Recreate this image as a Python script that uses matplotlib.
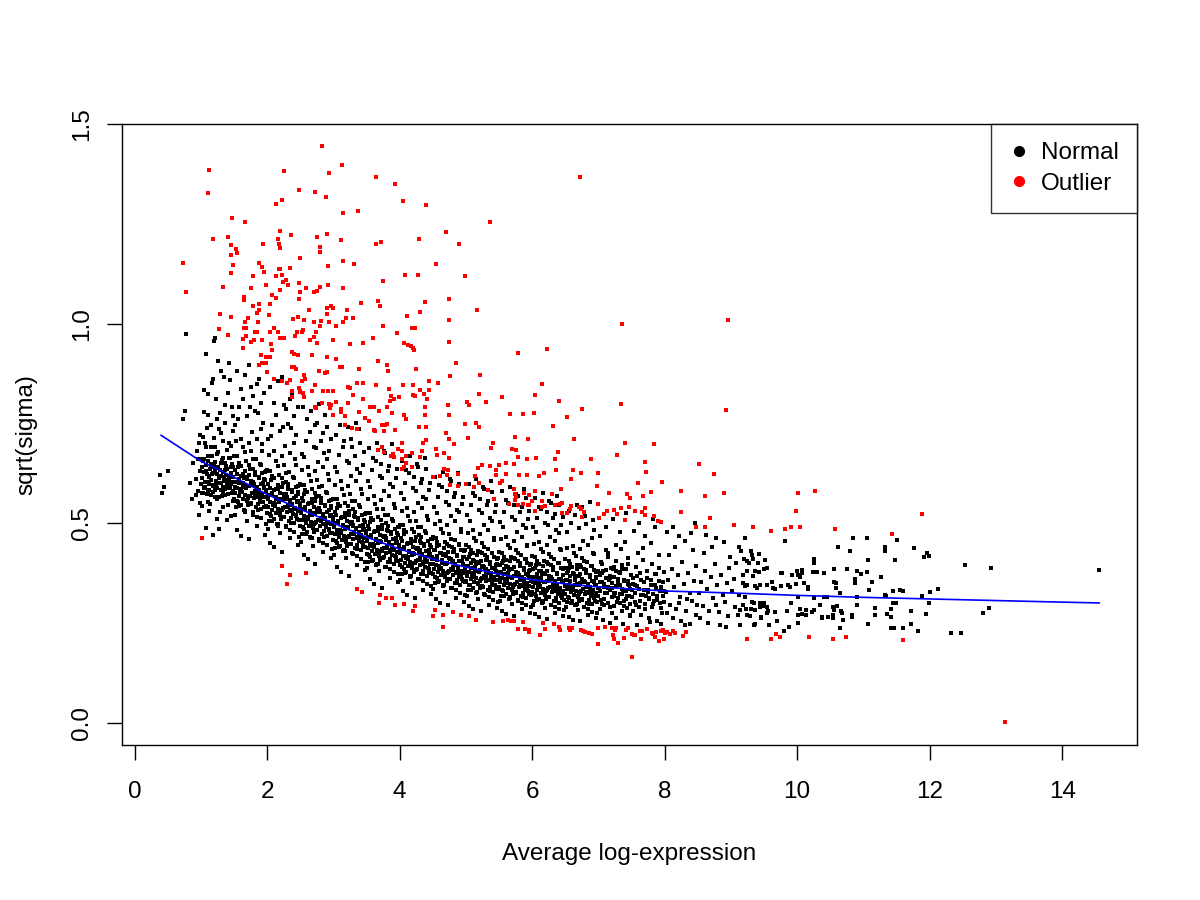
import numpy as np
import matplotlib.pyplot as plt
from matplotlib.lines import Line2D

plt.rcParams['font.family'] = ['Liberation Sans', 'DejaVu Sans']

# points: x = average log-expression * 100, y = sqrt(sigma) * 1000
normal_xy_left = [
    38,620, 42,576, 51,630, 45,590, 73,760, 76,780, 77,974, 84,600, 88,650, 86,560,
    92,610, 95,660, 96,580, 97,700, 98,550, 99,630, 94,680, 97,520, 99,720, 93,570,
    101,612, 103,655, 104,588, 106,702, 107,631, 109,574, 111,668, 112,603, 114,547, 115,690,
    117,622, 118,579, 120,713, 121,641, 123,596, 125,560, 126,678, 128,615, 129,528, 131,650,
    133,590, 134,705, 136,632, 137,571, 139,684, 141,545, 142,619, 144,662, 145,598, 147,575, 148,640,
    102,575, 105,628, 108,690, 110,552, 113,617, 116,745, 119,596, 122,652, 124,511, 127,600,
    130,726, 132,567, 135,615, 138,643, 140,508, 143,587, 146,692, 149,556,
    101,542, 104,778, 107,489, 110,823, 113,530, 116,641, 119,862, 122,566, 125,760, 128,486,
    131,880, 134,541, 137,795, 140,609, 143,902, 146,518, 149,731,
    102,660, 106,603, 109,738, 112,583, 115,648, 118,470, 121,690, 124,622, 127,735, 130,584,
    133,663, 136,752, 139,596, 142,700, 145,640, 148,768,
    103,716, 105,834, 111,770, 117,850, 123,812, 129,776, 135,866, 141,825, 147,790, 108,925,
    126,905, 144,858, 122,964, 120,957,
    151,590, 152,632, 154,555, 155,668, 157,601, 158,542, 160,643, 162,578, 163,690, 165,612,
    166,527, 168,655, 170,592, 171,563, 173,620, 175,681, 176,548, 178,604, 179,636, 181,571,
    183,660, 184,590, 186,532, 187,615, 189,648, 191,566, 192,697, 194,600, 195,541, 197,628, 199,584,
    151,520, 153,603, 156,640, 159,577, 161,712, 164,590, 167,616, 169,506, 172,645, 174,567,
    177,728, 180,598, 182,629, 185,515, 188,575, 190,735, 193,552, 196,611, 198,498,
    152,745, 155,482, 158,790, 161,468, 164,812, 167,530, 170,768, 173,459, 176,842, 179,520,
    182,781, 185,494, 188,860, 191,512, 194,752, 197,471,
    150,668, 153,706, 157,650, 160,585, 163,622, 166,678, 169,558, 172,700, 175,605, 178,660,
    181,620, 184,712, 187,566, 190,645, 193,680, 196,590, 199,630,
    154,880, 160,835, 166,870, 172,895, 178,818, 184,848, 190,800, 196,825, 156,760, 174,790, 186,775,
    201,560, 202,598, 204,522, 205,631, 207,570, 208,505, 210,612, 212,548, 213,655, 215,585,
    216,494, 218,620, 220,560, 221,532, 223,590, 225,645, 226,516, 228,572, 229,603, 231,540,
    233,628, 234,558, 236,500, 237,582, 239,615, 241,535, 242,660, 244,568, 245,510, 247,594, 249,550,
    201,485, 203,570, 206,607, 209,545, 211,680, 214,560, 217,585, 219,476, 222,612, 224,537,
    227,692, 230,566, 232,598, 235,483, 238,545, 240,700, 243,520, 246,578, 248,466,
    202,712, 205,451, 208,745, 211,440, 214,770, 217,498, 220,730, 223,428, 226,795, 229,490,
    232,748, 235,462, 238,820, 241,478, 244,722, 247,445,
    200,633, 203,670, 207,618, 210,550, 213,585, 216,642, 219,525, 222,668, 225,572, 228,625,
    231,588, 234,676, 237,533, 240,612, 243,645, 246,556, 249,598,
    204,840, 210,802, 216,855, 222,865, 228,785, 234,812, 240,768, 246,790, 206,718, 224,742, 236,738,
    251,525, 252,562, 254,490, 255,596, 257,535, 258,472, 260,578, 262,515, 263,620, 265,550,
    266,462, 268,585, 270,525, 271,498, 273,555, 275,608, 276,482, 278,538, 279,568, 281,506,
    283,592, 284,522, 286,466, 287,546, 289,578, 291,500, 292,622, 294,532, 295,476, 297,558, 299,515,
    251,452, 253,535, 256,572, 259,510, 261,640, 264,525, 267,550, 269,443, 272,576, 274,502,
    277,652, 280,530, 282,562, 285,450, 288,510, 290,660, 293,485, 296,542, 298,435,
    252,672, 255,420, 258,705, 261,410, 264,728, 267,462, 270,690, 273,398, 276,752, 279,455,
    282,705, 285,428, 288,770, 291,444, 294,680, 297,412,
    250,596, 253,632, 257,582, 260,515, 263,550, 266,606, 269,492, 272,630, 275,536, 278,590,
    281,552, 284,640, 287,498, 290,575, 293,608, 296,520, 299,560,
    254,790, 260,760, 266,780, 272,745, 278,798, 284,725, 290,740, 296,712, 256,665, 274,688, 286,675,
]

normal_xy_mid = [
    301,490, 302,528, 304,455, 305,560, 307,500, 308,440, 310,543, 312,480, 313,585, 315,515,
    316,432, 318,550, 320,490, 321,465, 323,520, 325,572, 326,448, 328,502, 329,535, 331,472,
    333,556, 334,488, 336,436, 337,512, 339,545, 341,466, 342,585, 344,496, 345,442, 347,524, 349,480,
    301,420, 303,500, 306,538, 309,476, 311,605, 314,492, 317,515, 319,412, 322,542, 324,468,
    327,618, 330,496, 332,528, 335,418, 338,476, 340,625, 343,452, 346,508, 348,402,
    302,640, 305,390, 308,670, 311,378, 314,690, 317,430, 320,655, 323,368, 326,712, 329,422,
    332,668, 335,395, 338,735, 341,410, 344,645, 347,382,
    300,560, 303,595, 307,548, 310,482, 313,515, 316,570, 319,458, 322,594, 325,502, 328,555,
    331,518, 334,605, 337,465, 340,540, 343,572, 346,486, 349,525,
    304,720, 310,745, 316,705, 322,740, 328,690, 334,752, 340,700, 346,678, 306,628, 324,650, 336,635,
    351,455, 352,492, 354,420, 355,525, 357,465, 358,406, 360,508, 362,446, 363,548, 365,480,
    366,398, 368,515, 370,455, 371,430, 373,485, 375,536, 376,414, 378,468, 379,500, 381,438,
    383,520, 384,452, 386,402, 387,478, 389,510, 391,432, 392,548, 394,462, 395,408, 397,490, 399,446,
    351,388, 353,466, 356,502, 359,442, 361,568, 364,458, 367,480, 369,380, 372,508, 374,434,
    377,580, 380,462, 382,494, 385,385, 388,442, 390,590, 393,418, 396,474, 398,372,
    352,605, 355,360, 358,632, 361,348, 364,655, 367,398, 370,618, 373,338, 376,680, 379,390,
    382,630, 385,362, 388,698, 391,378, 394,612, 397,352,
    350,525, 353,560, 357,512, 360,448, 363,480, 366,535, 369,424, 372,558, 375,468, 378,520,
    381,484, 384,568, 387,432, 390,505, 393,538, 396,452, 399,490,
    354,688, 360,662, 366,700, 372,648, 378,675, 384,642, 390,668, 396,635, 356,590, 374,612, 386,598,
    401,425, 402,462, 404,390, 405,495, 407,435, 408,376, 410,478, 412,416, 413,518, 415,450,
    416,368, 418,485, 420,425, 421,400, 423,455, 425,506, 426,384, 428,438, 429,470, 431,408,
    433,490, 434,422, 436,372, 437,448, 439,480, 441,402, 442,518, 444,432, 445,378, 447,460, 449,416,
    401,358, 403,436, 406,472, 409,412, 411,538, 414,428, 417,450, 419,350, 422,478, 424,404,
    427,550, 430,432, 432,464, 435,356, 438,412, 440,560, 443,388, 446,444, 448,342,
    402,575, 405,330, 408,600, 411,320, 414,625, 417,368, 420,588, 423,312, 426,648, 429,360,
    432,600, 435,332, 438,662, 441,348, 444,582, 447,322,
    400,495, 403,530, 407,482, 410,418, 413,450, 416,505, 419,394, 422,528, 425,438, 428,490,
    431,454, 434,538, 437,402, 440,475, 443,508, 446,422, 449,460,
    404,655, 410,632, 416,668, 422,615, 428,640, 434,610, 440,635, 446,600, 406,560, 424,580, 436,566,
    451,398, 452,432, 454,365, 455,462, 457,408, 458,352, 460,445, 462,388, 463,486, 465,420,
    466,344, 468,452, 470,398, 471,375, 473,428, 475,472, 476,360, 478,410, 479,440, 481,382,
    483,458, 484,396, 486,350, 487,418, 489,448, 491,378, 492,485, 494,405, 495,355, 497,430, 499,390,
    451,335, 453,410, 456,442, 459,386, 461,505, 464,400, 467,422, 469,328, 472,448, 474,380,
    477,518, 480,405, 482,436, 485,333, 488,388, 490,528, 493,365, 496,415, 498,320,
    452,540, 455,310, 458,565, 461,300, 464,590, 467,345, 470,552, 473,295, 476,610, 479,338,
    482,565, 485,312, 488,625, 491,326, 494,548, 497,302,
    450,465, 453,498, 457,452, 460,392, 463,425, 466,475, 469,370, 472,495, 475,412, 478,460,
    481,428, 484,505, 487,378, 490,445, 493,478, 496,398, 499,432,
    454,615, 460,595, 466,628, 472,580, 478,605, 484,575, 490,598, 496,565, 456,525, 474,545, 486,532,
    501,376, 502,410, 504,345, 505,440, 507,388, 508,332, 510,425, 512,366, 513,462, 515,398,
    516,326, 518,430, 520,378, 521,355, 523,406, 525,450, 526,340, 528,390, 529,420, 531,362,
    533,436, 534,376, 536,330, 537,398, 539,426, 541,358, 542,462, 544,385, 545,336, 547,410, 549,370,
    501,318, 503,392, 506,422, 509,366, 511,482, 514,380, 517,402, 519,310, 522,428, 524,362,
    527,495, 530,385, 532,416, 535,314, 538,368, 540,505, 543,346, 546,395, 548,302,
    502,520, 505,292, 508,545, 511,285, 514,568, 517,328, 520,532, 523,280, 526,590, 529,320,
    532,545, 535,296, 538,605, 541,308, 544,528, 547,288,
    500,445, 503,476, 507,432, 510,372, 513,405, 516,455, 519,350, 522,472, 525,392, 528,440,
    531,408, 534,482, 537,358, 540,425, 543,458, 546,378, 549,412,
    504,598, 510,575, 516,610, 522,560, 528,585, 534,555, 540,578, 546,545, 506,505, 524,525, 536,512,
    551,362, 552,395, 554,332, 555,425, 557,372, 558,318, 560,408, 562,350, 563,446, 565,382,
    566,312, 568,414, 570,362, 571,340, 573,390, 575,432, 576,326, 578,374, 579,404, 581,346,
    583,420, 584,360, 586,316, 587,382, 589,410, 591,342, 592,445, 594,370, 595,322, 597,395, 599,355,
    551,305, 553,376, 556,406, 559,350, 561,465, 564,365, 567,386, 569,297, 572,412, 574,348,
    577,478, 580,370, 582,400, 585,300, 588,354, 590,488, 593,332, 596,380, 598,290,
    552,502, 555,280, 558,528, 561,272, 564,550, 567,315, 570,515, 573,268, 576,572, 579,306,
    582,528, 585,284, 588,585, 591,295, 594,510, 597,276,
    550,428, 553,460, 557,416, 560,358, 563,390, 566,438, 569,336, 572,455, 575,378, 578,424,
    581,392, 584,465, 587,344, 590,410, 593,442, 596,364, 599,398,
    554,580, 560,558, 566,590, 572,545, 578,568, 584,540, 590,562, 596,530, 556,490, 574,508, 586,495,
]

normal_xy_right = [
    601,352, 602,384, 604,322, 605,414, 607,362, 608,308, 610,398, 612,340, 613,435, 615,372,
    616,302, 618,404, 620,352, 621,330, 623,380, 625,422, 626,316, 628,364, 629,394, 631,336,
    633,410, 634,350, 636,306, 637,372, 639,400, 641,332, 642,434, 644,360, 645,312, 647,385, 649,345,
    601,296, 603,366, 606,396, 609,340, 611,452, 614,355, 617,376, 619,288, 622,402, 624,338,
    627,465, 630,360, 632,390, 635,290, 638,344, 640,475, 643,322, 646,370, 648,282,
    602,490, 605,272, 608,512, 611,265, 614,535, 617,305, 620,500, 623,260, 626,555, 629,296,
    632,512, 635,276, 638,568, 641,285, 644,495, 647,268,
    600,418, 603,448, 607,406, 610,348, 613,380, 616,428, 619,326, 622,444, 625,368, 628,414,
    631,382, 634,455, 637,334, 640,400, 643,432, 646,354, 649,388,
    604,562, 610,540, 616,575, 622,528, 628,550, 634,522, 640,545, 646,515, 606,478, 624,495, 636,482,
    651,345, 652,376, 654,315, 655,405, 657,355, 658,300, 660,390, 662,332, 663,425, 665,365,
    666,295, 668,396, 670,345, 671,322, 673,372, 675,412, 676,308, 678,356, 679,386, 681,328,
    683,402, 684,342, 686,298, 687,364, 689,392, 691,325, 692,425, 694,352, 695,305, 697,378, 699,338,
    651,290, 653,358, 656,388, 659,332, 661,442, 664,346, 667,368, 669,282, 672,394, 674,330,
    677,455, 680,352, 682,382, 685,284, 688,336, 690,462, 693,315, 696,362, 698,276,
    652,478, 655,266, 658,500, 661,258, 664,520, 667,298, 670,488, 673,254, 676,540, 679,290,
    682,498, 685,270, 688,552, 691,278, 694,482, 697,262,
    650,410, 653,438, 657,398, 660,340, 663,372, 666,418, 669,318, 672,435, 675,360, 678,405,
    681,374, 684,445, 687,326, 690,392, 693,422, 696,346, 699,380,
    656,530, 668,545, 680,518, 692,508,
    701,338, 703,370, 704,308, 706,398, 708,348, 709,294, 711,382, 713,326, 714,415, 716,358,
    718,290, 719,388, 721,338, 723,318, 724,365, 726,404, 728,302, 729,350, 731,378, 733,322,
    735,395, 736,336, 738,292, 739,358, 741,384, 743,318, 744,412, 746,346, 748,298, 749,370,
    702,285, 705,352, 707,380, 710,326, 712,432, 715,340, 717,362, 720,276, 722,386, 725,324,
    727,445, 730,345, 732,374, 735,280, 737,330, 740,452, 742,310, 745,355, 747,270,
    702,468, 707,258, 712,490, 717,250, 722,510, 727,262, 732,478, 737,248, 742,525, 747,268,
    704,402, 714,425, 724,390, 734,436, 744,398,
    751,332, 753,362, 755,302, 757,390, 759,342, 761,290, 763,376, 765,320, 767,408, 769,352,
    771,286, 773,380, 775,332, 777,312, 779,358, 781,398, 783,298, 785,344, 787,372, 789,318,
    791,388, 793,330, 795,288, 797,352, 799,378,
    752,280, 756,346, 760,426, 764,270, 768,438, 772,318, 776,262, 780,450, 784,306, 788,256,
    792,420, 796,275, 799,302,
    754,480, 762,500, 770,468, 778,252, 786,490, 794,248, 758,244, 782,510,
    802,328, 805,358, 808,296, 811,385, 814,340, 817,285, 820,370, 823,316, 826,402, 829,348,
    832,280, 835,375, 838,326, 841,306, 844,356, 847,392, 849,296,
    803,276, 807,420, 812,262, 816,440, 821,300, 825,255, 830,455, 834,310, 839,248, 843,432, 848,270,
    804,478, 813,490, 822,468, 831,245, 840,475, 846,500,
    852,325, 855,352, 858,292, 861,380, 864,336, 867,280, 870,366, 873,312, 876,398, 879,344,
    882,278, 885,370, 888,320, 891,302, 894,350, 897,388,
    853,262, 859,425, 865,250, 871,440, 877,296, 883,245, 889,452, 895,268, 899,415,
    862,470, 878,462, 892,240,
    901,330, 904,360, 906,290, 908,400, 910,270, 912,440, 913,320,
]

# the densest part of the band, read bin by bin
normal_xy_core = [
    100,598, 101,641, 102,612, 103,575, 104,660, 105,628, 106,590, 107,645, 108,603, 109,622,
    110,580, 111,655, 112,615, 113,598, 114,636, 115,570, 116,608, 117,667, 118,625, 119,594,
    120,648, 121,583, 122,630, 123,606, 124,672, 125,589, 126,640, 127,612, 128,566, 129,633,
    130,600, 131,618, 132,657, 133,578, 134,628, 135,606, 136,585, 137,650, 138,620, 139,597,
    140,636, 141,572, 142,610, 143,662, 144,590, 145,625, 146,603, 147,648, 148,581, 149,615,
    150,560, 151,602, 152,575, 153,540, 154,622, 155,588, 156,553, 157,610, 158,568, 159,585,
    160,545, 161,618, 162,578, 163,560, 164,600, 165,532, 166,570, 167,630, 168,588, 169,556,
    170,610, 171,545, 172,592, 173,568, 174,635, 175,550, 176,603, 177,575, 178,528, 179,596,
    180,562, 181,580, 182,620, 183,540, 184,590, 185,566, 186,548, 187,612, 188,582, 189,558,
    190,598, 191,535, 192,572, 193,625, 194,552, 195,588, 196,565, 197,608, 198,543, 199,578,
    200,525, 201,566, 202,540, 203,505, 204,588, 205,552, 206,518, 207,575, 208,533, 209,550,
    210,510, 211,582, 212,543, 213,525, 214,565, 215,498, 216,535, 217,595, 218,553, 219,521,
    220,575, 221,510, 222,557, 223,533, 224,600, 225,515, 226,568, 227,540, 228,493, 229,561,
    230,527, 231,545, 232,585, 233,505, 234,555, 235,531, 236,513, 237,577, 238,547, 239,523,
    240,563, 241,500, 242,537, 243,590, 244,517, 245,553, 246,530, 247,573, 248,508, 249,543,
    250,492, 251,532, 252,507, 253,472, 254,555, 255,518, 256,485, 257,541, 258,500, 259,516,
    260,477, 261,548, 262,510, 263,492, 264,531, 265,465, 266,502, 267,560, 268,520, 269,488,
    270,541, 271,477, 272,523, 273,500, 274,566, 275,482, 276,534, 277,507, 278,460, 279,527,
    280,494, 281,512, 282,551, 283,472, 284,521, 285,498, 286,480, 287,543, 288,514, 289,490,
    290,529, 291,467, 292,504, 293,556, 294,484, 295,519, 296,497, 297,539, 298,475, 299,509,
    300,458, 301,497, 302,472, 303,437, 304,520, 305,483, 306,450, 307,506, 308,465, 309,481,
    310,442, 311,513, 312,475, 313,457, 314,496, 315,430, 316,467, 317,525, 318,485, 319,453,
    320,506, 321,442, 322,488, 323,465, 324,531, 325,447, 326,499, 327,472, 328,425, 329,492,
    330,459, 331,477, 332,516, 333,437, 334,486, 335,463, 336,445, 337,508, 338,479, 339,455,
    340,494, 341,432, 342,469, 343,521, 344,449, 345,484, 346,462, 347,504, 348,440, 349,474,
    350,423, 351,462, 352,437, 353,402, 354,485, 355,448, 356,415, 357,471, 358,430, 359,446,
    360,407, 361,478, 362,440, 363,422, 364,461, 365,395, 366,432, 367,490, 368,450, 369,418,
    370,471, 371,407, 372,453, 373,430, 374,496, 375,412, 376,464, 377,437, 378,390, 379,457,
    380,424, 381,442, 382,481, 383,402, 384,451, 385,428, 386,410, 387,473, 388,444, 389,420,
    390,459, 391,397, 392,434, 393,486, 394,414, 395,449, 396,427, 397,469, 398,405, 399,439,
    400,395, 401,433, 402,408, 403,373, 404,455, 405,418, 406,386, 407,441, 408,400, 409,416,
    410,378, 411,448, 412,410, 413,392, 414,431, 415,366, 416,402, 417,460, 418,420, 419,388,
    420,441, 421,377, 422,423, 423,400, 424,466, 425,382, 426,434, 427,407, 428,361, 429,427,
    430,394, 431,412, 432,451, 433,372, 434,421, 435,398, 436,380, 437,443, 438,414, 439,390,
    440,429, 441,367, 442,404, 443,456, 444,384, 445,419, 446,397, 447,439, 448,375, 449,409,
    450,372, 451,410, 452,385, 453,350, 454,432, 455,395, 456,362, 457,418, 458,377, 459,393,
    460,355, 461,425, 462,387, 463,369, 464,408, 465,343, 466,379, 467,437, 468,397, 469,365,
    470,418, 471,354, 472,400, 473,377, 474,443, 475,359, 476,411, 477,384, 478,338, 479,404,
    480,371, 481,389, 482,428, 483,349, 484,398, 485,375, 486,357, 487,420, 488,391, 489,367,
    490,406, 491,344, 492,381, 493,433, 494,361, 495,396, 496,374, 497,416, 498,352, 499,386,
    500,355, 501,392, 502,368, 503,333, 504,414, 505,378, 506,345, 507,400, 508,360, 509,376,
    510,338, 511,407, 512,370, 513,352, 514,390, 515,326, 516,362, 517,419, 518,380, 519,348,
    520,400, 521,337, 522,383, 523,360, 524,425, 525,342, 526,393, 527,367, 528,322, 529,386,
    530,354, 531,372, 532,410, 533,332, 534,381, 535,358, 536,340, 537,402, 538,374, 539,350,
    540,388, 541,327, 542,364, 543,415, 544,344, 545,379, 546,357, 547,398, 548,335, 549,369,
    550,340, 551,377, 552,353, 553,318, 554,399, 555,363, 556,330, 557,385, 558,345, 559,361,
    560,323, 561,392, 562,355, 563,337, 564,375, 565,311, 566,347, 567,404, 568,365, 569,333,
    570,385, 571,322, 572,368, 573,345, 574,410, 575,327, 576,378, 577,352, 578,307, 579,371,
    580,339, 581,357, 582,395, 583,317, 584,366, 585,343, 586,325, 587,387, 588,359, 589,335,
    590,373, 591,312, 592,349, 593,400, 594,329, 595,364, 596,342, 597,383, 598,320, 599,354,
    600,328, 601,365, 602,341, 603,306, 604,387, 605,351, 606,318, 607,373, 608,333, 609,349,
    610,311, 611,380, 612,343, 613,325, 614,363, 615,299, 616,335, 617,392, 618,353, 619,321,
    620,373, 621,310, 622,356, 623,333, 624,398, 625,315, 626,366, 627,340, 628,296, 629,359,
    630,327, 631,345, 632,383, 633,305, 634,354, 635,331, 636,313, 637,375, 638,347, 639,323,
    640,361, 641,300, 642,337, 643,388, 644,317, 645,352, 646,330, 647,371, 648,308, 649,342,
    650,323, 651,358, 652,336, 653,302, 654,380, 655,345, 656,313, 657,367, 658,328, 659,343,
    660,306, 661,374, 662,338, 663,320, 664,357, 665,295, 666,330, 667,385, 668,347, 669,316,
    670,367, 671,305, 672,350, 673,327, 674,391, 675,310, 676,360, 677,334, 678,291, 679,353,
    680,322, 681,340, 682,377, 683,300, 684,348, 685,325, 686,308, 687,369, 688,341, 689,318,
    690,355, 691,297, 692,332, 693,382, 694,312, 695,346, 696,324, 697,365, 698,303, 699,337,
    700,318, 702,352, 703,331, 705,298, 706,374, 708,340, 709,309, 711,362, 712,324, 714,338,
    715,301, 717,368, 718,333, 720,316, 721,351, 723,292, 724,326, 726,379, 727,342, 729,312,
    730,361, 732,300, 733,345, 735,322, 736,385, 738,306, 739,355, 741,329, 743,288, 744,348,
    746,317, 747,335, 749,371,
    751,315, 753,348, 755,326, 757,296, 759,368, 761,336, 763,305, 765,357, 767,320, 769,333,
    771,298, 773,362, 775,328, 777,311, 779,345, 781,290, 783,322, 785,372, 787,338, 789,308,
    791,355, 793,300, 795,340, 797,318, 799,330,
]

normal_xy_tail = [
    921,462, 916,430, 931,430, 932,420, 934,410, 943,423, 920,410, 925,405, 928,400, 941,400,
    952,407, 982,455, 924,380, 936,380, 942,378, 950,385, 955,387, 919,370, 933,368, 918,350,
    924,345, 922,342, 937,342, 940,337, 944,345, 955,345, 962,352, 975,375, 977,374, 993,370,
    1000,380, 1007,382, 1007,376, 1002,370, 1004,365, 986,345, 989,340, 999,347, 964,338, 975,342,
    966,336, 1017,340, 1017,336, 1011,350, 1025,410, 1025,400, 1024,377, 1030,377, 1041,376, 1055,385,
    1059,350, 1055,352, 1058,338, 1062,441, 1080,429, 1085,462, 1105,462, 1076,385, 1090,380, 1088,360,
    1088,350, 1097,372, 1107,408, 1106,378, 1113,353, 1109,332, 1065,325, 1126,365, 1132,440, 1132,430,
    1147,407, 1150,457, 1177,438, 1192,415, 1196,425, 1199,417, 1132,320, 1134,318, 1144,330, 1156,333,
    1160,331, 1188,318, 1200,327, 1212,334, 1199,300, 1145,300, 1149,300, 1135,272, 1142,265, 1118,270,
    1090,295, 1172,280, 1195,273, 1172,247, 1183,230, 1141,237, 1146,237, 1160,237, 1107,246, 1064,237,
    1083,270, 1083,266, 1069,258, 1067,275, 1066,280, 1054,290, 1060,292, 1056,283, 1041,315, 1045,315,
    1025,313, 1034,294, 1025,283, 1023,278, 1037,265, 1046,264, 1038,263, 1054,270, 1054,262, 1005,285,
    1014,282, 1002,270, 1008,272, 1013,271, 1002,250, 980,230, 987,240, 984,280, 991,300, 1001,316,
    969,255, 957,245, 936,247, 935,245, 946,265, 945,262, 956,280, 954,276, 966,277, 924,270,
    929,268, 914,283, 923,285, 931,285, 936,283, 944,290, 948,292, 955,290, 950,300, 935,300,
    932,302, 944,300, 947,298, 921,316, 919,296, 914,245, 1233,224, 1247,224, 1253,395, 1293,387,
    1280,275, 1289,288, 1456,382, 1117,287, 1142,286, 1091,314,
]

outlier_xy_high = [
    283,1446, 112,1386, 313,1397, 225,1382, 294,1377, 365,1368, 393,1350, 111,1327, 248,1334, 272,1329,
    289,1317, 405,1306, 222,1310, 214,1299, 315,1276, 337,1281, 147,1264, 167,1255, 219,1231, 236,1221,
    118,1211, 141,1216, 216,1211, 276,1216, 290,1225, 312,1209, 364,1199, 372,1204, 429,1211, 145,1196,
    194,1200, 218,1200, 219,1190, 153,1186, 154,1176, 145,1171, 280,1193, 280,1180, 250,1165, 314,1156,
    331,1149, 73,1151, 148,1146, 188,1152, 193,1141, 195,1129, 218,1136, 220,1136, 235,1139, 292,1144,
    145,1127, 179,1119, 214,1120, 222,1122, 228,1110, 224,1104, 408,1121, 428,1121, 375,1106, 78,1078,
    133,1091, 175,1089, 199,1096, 232,1097, 248,1101, 258,1089, 280,1091, 292,1097, 315,1089, 165,1066,
    165,1060, 207,1071, 220,1085, 213,1064, 250,1080, 270,1080, 275,1082, 248,1062, 188,1048, 204,1050,
    342,1051, 368,1056, 370,1043, 178,1045, 263,1035, 290,1040, 297,1044, 300,1038, 320,1035, 430,1030,
    411,1020, 129,1025, 145,1016, 171,1014, 184,1027, 188,1033, 203,1021, 239,1012, 246,1016, 290,1025,
    319,1015, 330,1013, 166,1005, 186,1003, 255,1008, 270,1005, 282,1006, 294,1004, 315,1005, 128,987,
    141,972, 165,990, 168,988, 185,980, 181,978, 205,980, 217,980, 210,990, 245,978, 252,980,
    254,984, 274,980, 280,995, 304,993, 360,965, 375,995, 396,977, 418,990, 163,962, 163,940,
    168,970, 180,960, 176,955, 193,960, 206,950, 220,965, 226,964, 242,968, 265,960, 270,966,
    276,952, 300,960, 325,950, 345,952, 407,952, 417,944,
    672,1367, 440,1298, 537,1254, 470,1229, 490,1199, 455,1149, 499,1118, 475,1061, 438,1055, 517,1033,
    475,1008, 736,1000, 895,1008, 423,988, 412,947, 475,953, 420,940, 623,936,
]

outlier_xy_mid = [
    422,935, 579,927, 485,900, 425,886, 476,868, 522,872, 444,857, 458,852, 405,846, 420,846,
    445,834, 615,848, 430,834, 420,821, 423,818, 399,816, 437,823, 442,812, 473,797, 502,804,
    505,796, 520,823, 530,804, 554,815, 605,820, 640,806, 734,799, 675,785, 892,783, 438,790,
    475,772, 438,770, 406,772, 409,760, 567,774, 586,774, 603,777, 653,766, 499,748, 516,752,
    520,740, 429,742, 440,740, 631,743, 470,725, 475,710, 503,713, 440,709, 436,702, 403,700,
    574,716, 594,710, 663,710, 740,700, 784,698, 482,697, 455,685, 541,702, 538,689, 569,686,
    576,684, 639,678, 404,680, 434,680, 467,675, 689,660, 728,670, 419,675, 430,666, 456,670,
    475,664, 536,644, 550,645, 560,650, 572,648, 578,665, 593,660, 606,664, 635,660, 770,653,
    852,649, 418,640, 467,636, 473,633, 518,638, 525,645, 546,632, 636,634, 661,633, 674,626,
    700,626, 772,627, 874,623, 450,615, 461,618, 472,620, 488,622, 514,619, 546,620, 560,622,
    580,620, 593,620, 610,617, 618,625, 659,610, 698,594, 760,600, 796,603, 825,580, 861,568,
    890,575, 476,595, 488,592, 500,598, 512,590, 520,600, 534,584, 552,600, 555,605, 572,585,
    574,574, 588,576, 596,570, 605,580, 630,572, 643,585, 716,575, 743,574, 748,563, 768,568,
    780,579, 574,558, 576,566, 578,545, 586,548, 594,545, 600,555, 596,545, 605,530, 615,555,
    615,541, 620,544, 634,545, 642,548, 645,550, 658,544, 670,540, 674,535, 679,529, 700,547,
    709,524, 713,531, 723,534, 728,524, 734,539, 740,508, 746,540, 755,530, 766,527, 770,520,
    771,537, 784,518, 790,505, 795,503, 825,527, 847,490, 861,490, 868,514, 904,496, 543,560,
    565,548, 645,526, 652,526, 657,536, 675,516, 701,514,
    191,922, 199,915, 204,915, 208,933, 238,930, 240,925, 246,922, 268,920, 290,915, 304,910,
    310,890, 313,892, 339,885, 367,905, 381,895, 382,880, 188,895, 192,900, 199,900, 200,878,
    210,860, 237,890, 240,892, 243,885, 255,870, 257,862, 253,855, 223,856, 230,852, 234,858,
    248,838, 254,825, 249,830, 279,880, 288,875, 290,878, 272,845, 237,830, 250,828, 268,830,
    285,832, 292,830, 300,832, 238,815, 256,815, 272,790, 274,788, 283,800, 294,798, 295,788,
    304,804, 311,778, 322,800, 322,842, 325,838, 330,820, 345,810, 336,852, 344,852, 355,790,
    362,792, 369,782, 381,790, 389,775, 365,845, 384,835, 387,818, 386,805, 391,812, 300,772,
    297,795, 311,785, 317,768, 348,763, 354,755, 339,778, 317,745, 328,738, 335,735, 361,733,
    363,730, 373,745, 378,745, 381,748, 393,733, 376,730, 377,678, 367,682, 374,690, 392,665,
    398,685, 387,668, 390,672, 404,660, 409,668, 406,640, 410,650, 404,636,
    1002,575, 1027,580, 999,530, 933,490, 960,480, 982,485, 991,490, 1005,490, 1057,485, 1143,472,
    1188,523,
]

outlier_xy_low = [
    101,462, 223,392, 235,370, 230,347, 258,375, 336,335, 343,327, 369,300, 370,319, 380,312,
    388,312, 393,294, 406,297, 420,280, 423,293, 450,268, 454,282, 465,270, 466,240, 480,278,
    493,270, 505,268, 516,257, 541,252, 556,256, 563,258, 568,255, 573,256, 586,252, 579,234,
    589,235, 595,233, 595,226, 612,220, 617,250, 620,234, 633,247, 640,240, 642,232, 655,238,
    657,232, 660,236, 674,232, 677,230, 680,226, 686,225, 690,222, 699,237, 700,198, 710,240,
    720,236, 722,220, 723,210, 725,233, 727,238, 729,200, 738,212, 741,233, 745,237, 750,222,
    754,220, 756,220, 751,164, 763,230, 766,230, 765,210, 774,235, 781,224, 783,222, 785,215,
    787,226, 791,204, 794,230, 798,232, 799,210, 800,225, 804,228, 808,222, 812,230, 816,225,
    828,217, 832,228, 925,210, 961,210, 968,223, 974,215, 1018,215, 1054,210, 1074,214, 1160,208,
    1314,2,
]

# fitted trend line
trend_x = [0.4, 1.0, 1.5, 2.0, 2.5, 3.0, 3.5, 4.0, 4.5, 5.0, 5.5, 6.0,
           6.5, 7.0, 7.5, 8.0, 9.0, 10.0, 11.0, 12.0, 13.0, 14.0, 14.56]
trend_y = [0.72, 0.655, 0.615, 0.572, 0.535, 0.50, 0.465, 0.435, 0.41, 0.39, 0.372, 0.358,
           0.348, 0.34, 0.335, 0.33, 0.325, 0.319, 0.314, 0.31, 0.306, 0.302, 0.30]


def to_xy(vals):
    a = np.array(vals, dtype=float).reshape(-1, 2)
    return a[:, 0] / 100, a[:, 1] / 1000


norm = np.vstack([np.column_stack(to_xy(v)) for v in
                  (normal_xy_left, normal_xy_mid, normal_xy_right, normal_xy_core, normal_xy_tail)])
outl = np.vstack([np.column_stack(to_xy(v)) for v in
                  (outlier_xy_high, outlier_xy_mid, outlier_xy_low)])

fig = plt.figure(figsize=(12, 9), dpi=100)
ax = fig.add_axes([0.1017, 0.1722, 0.8458, 0.69])

ax.scatter(norm[:, 0], norm[:, 1], s=9, c="black", marker="s", linewidths=0, zorder=2)
ax.scatter(outl[:, 0], outl[:, 1], s=8, c="red", marker="s", linewidths=0, zorder=3)
ax.plot(trend_x, trend_y, color="blue", lw=1.2, zorder=4)

ax.set_xlim(-0.19, 15.13)
ax.set_ylim(-0.056, 1.5)
ax.set_xticks(np.arange(0, 15, 2))
ax.set_yticks([0.0, 0.5, 1.0, 1.5])
ax.set_yticklabels(["0.0", "0.5", "1.0", "1.5"])
ax.tick_params(direction="out", length=11, width=1, labelsize=17.5)
ax.tick_params(axis="x", pad=15)
ax.tick_params(axis="y", pad=10)
for lab in ax.get_yticklabels():
    lab.set_rotation(90)
    lab.set_va("center")
for sp in ax.spines.values():
    sp.set_linewidth(1)

ax.set_xlabel("Average log-expression", fontsize=17.5, va="center")
ax.xaxis.set_label_coords(0.5, -0.176)
ax.set_ylabel("sqrt(sigma)", fontsize=17.5, va="center")
ax.yaxis.set_label_coords(-0.094, 0.5)

handles = [Line2D([], [], ls="none", marker="o", color="black", markersize=7),
           Line2D([], [], ls="none", marker="o", color="red", markersize=7)]
leg = ax.legend(handles, ["Normal", "Outlier"], loc="upper right", fontsize=17.5,
                frameon=True, fancybox=False, borderaxespad=0, handletextpad=0.5,
                handlelength=0.8, borderpad=0.75, labelspacing=0.35)
leg.get_frame().set_edgecolor("black")
leg.get_frame().set_linewidth(1)

fig.savefig("out.png", dpi=100)
